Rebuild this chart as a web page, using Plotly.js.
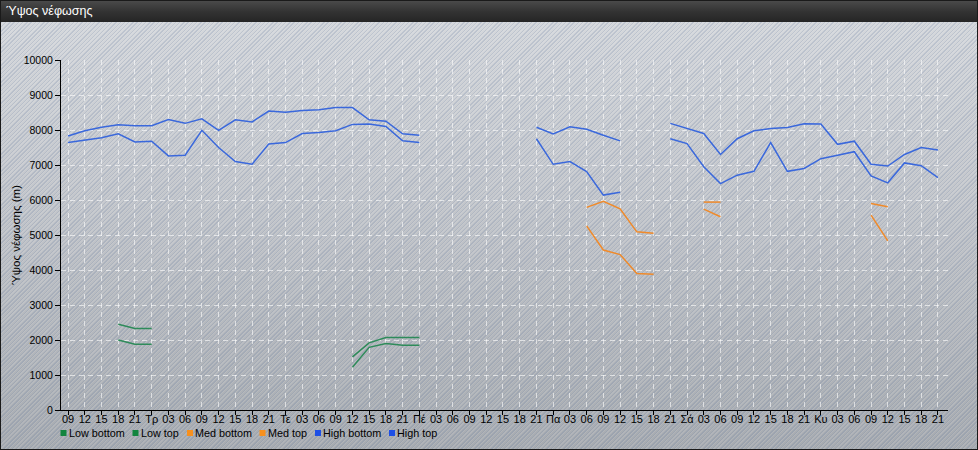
<!DOCTYPE html>
<html>
<head>
<meta charset="utf-8">
<script src="https://cdn.plot.ly/plotly-3.0.1.min.js"></script>
<style>
  html, body { margin: 0; padding: 0; }
  #frame {
    position: relative; width: 978px; height: 450px; box-sizing: border-box;
    border: 1px solid #1a1a1a; overflow: hidden;
    background:
      repeating-linear-gradient(135deg, rgba(110,130,165,0.22) 0px, rgba(110,130,165,0.22) 1px, rgba(255,255,255,0.10) 1px, rgba(255,255,255,0.10) 2px, rgba(0,0,0,0) 2px, rgba(0,0,0,0) 3px),
      linear-gradient(180deg, #d6d9dd 0%, #c3c6cb 45%, #a7abb0 100%);
  }
  #bar {
    position: absolute; left: 0; top: 0; width: 100%; height: 21px;
    background: linear-gradient(180deg, #4a4a4a 0%, #333 50%, #252525 100%);
  }
  #chart { position: absolute; left: -1px; top: -1px; width: 978px; height: 450px; }
</style>
</head>
<body>
<div id="frame"><div id="bar"></div><div id="chart"></div></div>
<script>
const chartTitle = 'Ύψος νέφωσης';
const yTitle = 'Ύψος νέφωσης (m)';
const timeLabels = [
  '09','12','15','18','21',
  'Τρ','03','06','09','12','15','18','21',
  'Τε','03','06','09','12','15','18','21',
  'Πέ','03','06','09','12','15','18','21',
  'Πα','03','06','09','12','15','18','21',
  'Σά','03','06','09','12','15','18','21',
  'Κυ','03','06','09','12','15','18','21'
];
const seriesNames = ['Low bottom','Low top','Med bottom','Med top','High bottom','High top'];
const N = null;
const lowBottom = [N,N,N, 2000,1880,1880, N,N,N,N,N,N,N,N,N,N,N, 1220,1790,1900,1850,1850,
  N,N,N,N,N,N,N,N,N,N,N,N,N,N,N,N,N,N,N,N,N,N,N,N,N,N,N,N,N,N,N];
const lowTop = [N,N,N, 2450,2330,2330, N,N,N,N,N,N,N,N,N,N,N, 1520,1920,2070,2070,2070,
  N,N,N,N,N,N,N,N,N,N,N,N,N,N,N,N,N,N,N,N,N,N,N,N,N,N,N,N,N,N,N];
const medBottom = [N,N,N,N,N,N,N,N,N,N,N,N,N,N,N,N,N,N,N,N,N,N,N,N,N,N,N,N,N,N,N,
  5260,4570,4440,3900,3880, N,N, 5740,5520, N,N,N,N,N,N,N,N, 5570,4830, N,N,N];
const medTop = [N,N,N,N,N,N,N,N,N,N,N,N,N,N,N,N,N,N,N,N,N,N,N,N,N,N,N,N,N,N,N,
  5790,5960,5750,5090,5050, N,N, 5940,5940, N,N,N,N,N,N,N,N, 5900,5810, N,N,N];
const highBottom = [7640,7700,7780,7890,7660,7680,7260,7280,7990,7500,7100,7020,7600,7640,7900,7930,7980,8160,8170,8100,7690,7640,
  N,N,N,N,N,N, 7750,7020,7100,6810,6140,6220, N,N,
  7750,7610,6950,6470,6710,6820,7640,6820,6900,7180,7280,7380,6690,6490,7060,6980,6640];
const highTop = [7830,7980,8080,8150,8120,8120,8300,8190,8320,7990,8290,8230,8540,8510,8560,8580,8640,8640,8290,8250,7890,7850,
  N,N,N,N,N,N, 8080,7890,8090,8020,7850,7690, N,N,
  8190,8040,7900,7300,7750,7980,8040,8070,8180,8170,7590,7680,7020,6970,7300,7500,7430];
const lineColors = ['#2e8b5a','#2e8b5a','#f08a2a','#f08a2a','#3a68dc','#3a68dc'];
const legendColors = ['#12853f','#12853f','#f7901e','#f7901e','#1d4fe6','#1d4fe6'];

const allSeries = [lowBottom, lowTop, medBottom, medTop, highBottom, highTop];
const xIdx = timeLabels.map((_, i) => i);

const traces = allSeries.map((s, k) => ({
  type: 'scatter', mode: 'lines', name: seriesNames[k], x: xIdx, y: s,
  line: {color: lineColors[k], width: 1.5}, connectgaps: false, showlegend: false,
  hoverinfo: 'x+y+name'
}));

// plot area in page pixels
const PL = 61, PR = 948, PT = 60, PB = 410;
const PW = PR - PL, PH = PB - PT;
const px = v => (v - PL) / PW;
const py = v => (PB - v) / PH;

const legSquares = [60.5, 132.5, 187, 259.5, 315, 389];
const legTexts = [67.5, 139.5, 193.5, 266.5, 321.5, 395.5];
const shapes = [], annotations = [];
seriesNames.forEach((n, k) => {
  shapes.push({type: 'rect', xref: 'paper', yref: 'paper',
    x0: px(legSquares[k]), x1: px(legSquares[k] + 6), y0: py(436), y1: py(430),
    fillcolor: legendColors[k], line: {width: 0}});
  annotations.push({xref: 'paper', yref: 'paper', x: px(legTexts[k]), y: py(433),
    xanchor: 'left', yanchor: 'middle', text: n, showarrow: false, borderpad: 0,
    font: {family: 'Liberation Sans, Arial, sans-serif', size: 10.8, color: '#000'}});
});

const layout = {
  width: 978, height: 450,
  margin: {l: PL, r: 978 - PR, t: PT, b: 450 - PB, pad: 0},
  paper_bgcolor: 'rgba(0,0,0,0)', plot_bgcolor: 'rgba(0,0,0,0)',
  font: {family: 'Liberation Sans, Arial, sans-serif', size: 11, color: '#000'},
  title: {text: chartTitle, xref: 'container', yref: 'container', x: 6 / 978, xanchor: 'left',
    y: 1 - 11 / 450, yanchor: 'middle', font: {size: 12.5, color: '#ffffff'}},
  showlegend: false,
  xaxis: {
    range: [-0.42, 52.6], tickmode: 'array', tickvals: xIdx, ticktext: timeLabels,
    showline: true, linecolor: '#000', linewidth: 1, ticks: 'outside', ticklen: 4, tickcolor: '#000',
    ticklabelstandoff: -5,
    showgrid: true, gridcolor: 'rgba(255,255,255,0.6)', griddash: '5px,4px', gridwidth: 1,
    zeroline: false, tickangle: 0, tickfont: {size: 11}, fixedrange: true
  },
  yaxis: {
    range: [0, 10000], dtick: 1000, tick0: 0, tickformat: 'd',
    showline: true, linecolor: '#000', linewidth: 1, ticks: 'outside', ticklen: 5, tickcolor: '#000',
    showgrid: true, gridcolor: 'rgba(255,255,255,0.6)', griddash: '5px,4px', gridwidth: 1,
    zeroline: false, tickfont: {size: 10.5},
    title: {text: yTitle, standoff: 0, font: {size: 11.5}}, fixedrange: true
  },
  shapes: shapes, annotations: annotations
};

Plotly.newPlot('chart', traces, layout, {displayModeBar: false, staticPlot: true});
</script>
</body>
</html>
